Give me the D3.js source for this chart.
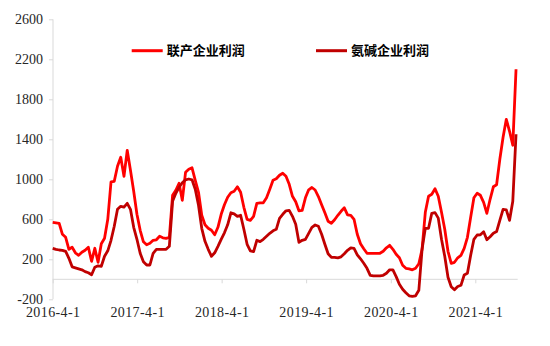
<!DOCTYPE html>
<html>
<head>
<meta charset="utf-8">
<script src="https://cdn.jsdelivr.net/npm/d3@7/dist/d3.min.js"></script>
<style>
  html, body { margin: 0; padding: 0; background: #fff; }
  svg { display: block; }
</style>
</head>
<body>
<svg id="chart" width="550" height="346"></svg>
<script>
// Weekly-sampled profit series (yuan/ton), one reading every two weeks from 2016-04-01
const startDate = "2016-04-01";
const stepDays = 14;

const seriesNames = ["联产企业利润", "氨碱企业利润"];

const jointProfit = [
  570, 565, 560, 450, 420, 300, 320, 265, 240, 270,
  290, 320, 180, 310, 170, 355, 410, 600, 975, 980,
  1130, 1220, 1030, 1290, 1090, 880, 650, 490, 375, 345,
  360, 390, 395, 430, 415, 410, 420, 840, 890, 960,
  790, 1070, 1100, 1115, 990, 870, 640, 545, 510, 490,
  445, 520, 650, 745, 820, 865, 880, 925, 870, 720,
  600, 590, 630, 760, 765, 765, 815, 900, 990, 1005,
  1040, 1060, 1030, 950, 830, 775, 685, 690, 815, 895,
  918, 893, 827, 745, 665, 580, 560, 595, 640, 680,
  715, 645, 640, 600, 450, 355, 305, 260, 260, 260,
  260, 260, 280, 315, 340, 300, 250, 215, 140, 110,
  105, 95, 110, 155, 300, 670, 830, 850, 905, 830,
  670, 500, 280, 160, 170, 215, 240, 310, 420, 620,
  815, 860, 840, 770, 660, 800, 925, 945, 1200, 1420,
  1600, 1480, 1340, 2100
];

const ammoniaSodaProfit = [
  310, 300, 293, 290, 280, 210, 125, 115, 105, 95,
  77, 65, 45, 120, 135, 130, 230, 285, 390, 530,
  700, 730, 722, 760, 700, 520, 400, 260, 175, 143,
  143, 260, 300, 300, 300, 300, 330, 780, 860, 920,
  965, 995, 1003, 995, 900, 740, 510, 380, 300, 230,
  265, 330, 400, 465, 545, 665, 655, 630, 640, 500,
  350, 285, 277, 390, 377, 400, 430, 460, 485, 500,
  610, 650, 685, 690, 630, 550, 370, 390, 400, 460,
  520, 543, 530, 450, 350, 255, 220, 220, 215, 225,
  255, 290, 315, 310, 245, 205, 160, 110, 40, 35,
  35, 35, 40, 60, 95, 95, 27, -50, -100, -135,
  -165, -170, -165, -110, 300, 510, 510, 660, 667, 612,
  400, 230, 20, -75, -105, -72, -60, 43, 60, 240,
  400, 443, 445, 475, 395, 425, 460, 477, 590, 700,
  695, 590, 780, 1450
];

const yTicks = [-200, 200, 600, 1000, 1400, 1800, 2200, 2600];
const xTickLabels = ["2016-4-1", "2017-4-1", "2018-4-1", "2019-4-1", "2020-4-1", "2021-4-1"];

const seriesColors = ["#ff0000", "#c00000"];

const parse = d3.timeParse("%Y-%m-%d");
const start = parse(startDate);
const dates = jointProfit.map((_, i) => d3.timeDay.offset(start, i * stepDays));
const tickDates = xTickLabels.map(s => d3.timeParse("%Y-%m-%d")(s.replace(/-(\d)-(\d)$/, "-0$1-0$2")));

const svg = d3.select("#chart");

const x = d3.scaleTime()
  .domain([tickDates[0], tickDates[tickDates.length - 1]])
  .range([52.7, 475.3]);

const y = d3.scaleLinear()
  .domain([-200, 2600])
  .range([299.3, 19.3]);

const axisColor = "#d9d9d9";
const labelFont = "'Liberation Serif', 'DejaVu Serif', serif";

// y axis at the left edge of the plot
const yAxis = svg.append("g")
  .attr("transform", "translate(53,0)")
  .call(d3.axisLeft(y).tickValues(yTicks).tickSize(4).tickPadding(6)
    .tickFormat(d => d < 0 ? "-" + Math.abs(d) : String(d)));
yAxis.select(".domain").attr("stroke", axisColor).attr("d", `M0,${y(2600)}V${y(-200)}`);
yAxis.selectAll(".tick line").attr("stroke", axisColor);
yAxis.selectAll(".tick text")
  .attr("fill", "#262626")
  .style("font-family", labelFont)
  .style("font-size", "14px");

// x axis runs along the zero line
const xAxis = svg.append("g")
  .attr("transform", `translate(0,${y(0)})`)
  .call(d3.axisBottom(x).tickValues(tickDates).tickSize(4).tickPadding(24)
    .tickFormat((d, i) => xTickLabels[i]));
xAxis.select(".domain").attr("stroke", axisColor).attr("d", `M52.7,0H517.7`);
xAxis.selectAll(".tick line").attr("stroke", axisColor);
xAxis.selectAll(".tick text")
  .attr("fill", "#262626")
  .style("font-family", labelFont)
  .style("font-size", "14px")
  .style("letter-spacing", "0.4px");

// profit lines
const line = d3.line()
  .x((d, i) => x(dates[i]))
  .y(d => y(d));

[jointProfit, ammoniaSodaProfit].forEach((values, k) => {
  svg.append("path")
    .datum(values)
    .attr("fill", "none")
    .attr("stroke", seriesColors[k])
    .attr("stroke-width", 2.8)
    .attr("stroke-linejoin", "round")
    .attr("d", line);
});

// legend
const legendX = [131.7, 316];
const legend = svg.append("g");
seriesNames.forEach((name, k) => {
  legend.append("line")
    .attr("x1", legendX[k]).attr("x2", legendX[k] + 31)
    .attr("y1", 50.7).attr("y2", 50.7)
    .attr("stroke", seriesColors[k])
    .attr("stroke-width", 3);
  legend.append("text")
    .attr("x", legendX[k] + 35)
    .attr("y", 55.3)
    .attr("fill", "#000")
    .style("font-family", "'Noto Sans CJK SC', sans-serif")
    .style("font-weight", "bold")
    .style("font-size", "13px")
    .text(name);
});
</script>
</body>
</html>
